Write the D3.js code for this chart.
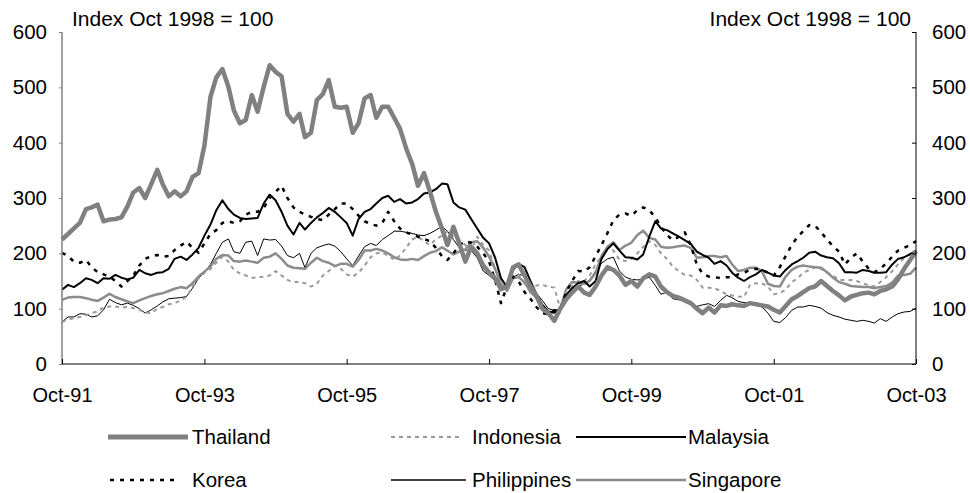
<!DOCTYPE html>
<html>
<head>
<meta charset="utf-8">
<script src="https://cdn.jsdelivr.net/npm/d3@7"></script>
<style>
  html, body { margin: 0; padding: 0; background: #fff; }
  svg { display: block; }
  text { font-family: "Liberation Sans", Arial, sans-serif; fill: #000; }
</style>
</head>
<body>
<svg id="chart" width="970" height="493"></svg>
<script>
// ---- Data (monthly, Oct-91 .. Oct-03; Index Oct 1998 = 100) ----
const startMonth = "1991-10";
const xTickLabels = ["Oct-91", "Oct-93", "Oct-95", "Oct-97", "Oct-99", "Oct-01", "Oct-03"];
const yTicks = [0, 100, 200, 300, 400, 500, 600];
const seriesNames = ["Thailand", "Indonesia", "Malaysia", "Korea", "Philippines", "Singapore"];

const thailand = [225,235,245,255,280,283,288,258,261,262,265,285,310,318,300,325,351,325,303,312,303,312,338,345,395,483,518,533,501,458,435,441,486,456,501,540,528,520,452,438,452,410,418,477,488,513,465,463,465,418,435,480,486,445,465,465,445,425,390,362,322,345,312,275,245,215,248,218,185,212,200,178,165,155,135,140,175,180,160,141,123,100,92,78,100,117,129,140,129,125,140,160,175,170,160,143,150,140,155,162,158,140,130,123,120,115,110,100,92,102,93,106,105,108,106,105,110,108,106,104,98,93,105,117,123,130,137,140,150,141,132,124,115,122,125,128,129,126,132,135,140,153,172,188,204];

const indonesia = [76,80,83,85,88,92,95,102,104,104,102,103,101,98,93,92,100,103,108,110,115,121,140,155,165,172,183,194,185,170,164,160,156,156,158,160,168,160,152,148,148,146,140,145,160,168,178,172,162,158,165,178,193,200,201,196,188,196,210,225,230,222,215,225,232,240,230,224,215,205,230,215,205,172,145,138,158,162,145,138,142,143,140,138,100,120,140,150,150,160,180,195,212,205,188,186,190,200,212,222,215,200,190,176,168,161,160,152,138,138,137,132,126,124,122,121,143,146,146,140,126,128,134,148,155,165,170,175,172,165,160,152,152,152,150,146,142,140,148,157,168,180,192,200,197];

const malaysia = [134,143,139,146,155,152,146,155,154,161,156,153,156,170,164,161,165,166,172,190,194,188,198,210,232,252,278,296,280,270,264,262,263,264,290,306,296,275,250,234,255,243,255,265,273,282,275,265,255,232,262,275,280,290,300,304,293,298,290,292,298,308,310,316,326,325,292,283,279,262,245,228,218,192,155,139,170,181,175,150,126,107,95,93,100,125,137,146,150,140,150,190,208,218,205,193,192,189,198,230,258,245,242,236,230,224,217,203,197,192,181,186,178,165,156,150,157,162,170,165,160,158,170,180,186,192,201,203,196,193,191,182,166,166,165,170,168,165,165,166,180,190,193,198,205];

const korea = [201,195,185,183,188,175,166,162,158,150,140,150,160,178,190,195,197,194,195,206,214,221,210,201,218,235,242,255,258,255,258,270,275,275,282,300,311,322,300,283,275,270,266,262,260,270,280,290,290,280,268,258,253,250,255,275,258,245,238,234,230,226,222,210,195,188,200,215,222,219,212,200,185,152,110,140,158,150,130,118,103,92,90,97,100,130,150,168,167,175,195,215,237,260,270,272,268,278,283,278,265,248,233,224,230,238,215,180,163,158,157,155,157,157,162,165,170,172,170,165,160,175,195,215,230,240,251,250,238,225,213,203,180,192,200,185,172,166,172,182,194,205,210,215,222];

const philippines = [76,85,85,91,90,85,87,98,117,111,107,110,106,100,92,98,105,112,118,119,120,122,137,155,165,180,200,220,226,203,200,220,222,196,226,224,225,213,196,192,200,174,200,210,214,217,213,203,190,178,195,212,218,214,225,232,240,240,238,236,233,232,236,242,249,240,225,210,206,205,192,168,160,150,140,140,157,162,160,140,128,115,100,97,100,120,135,140,145,152,168,182,190,193,168,157,153,152,153,157,142,126,130,118,116,115,111,104,107,109,104,115,124,120,113,111,110,110,103,92,77,75,84,97,103,103,106,104,101,93,88,85,81,79,77,79,77,74,82,77,85,91,94,95,101];

const singapore = [116,120,121,121,119,116,114,120,127,121,117,113,110,115,119,123,126,128,132,136,139,137,146,158,167,176,190,197,196,186,185,187,185,183,192,194,200,190,178,174,173,172,183,192,186,183,177,181,181,176,188,205,205,208,205,200,193,189,188,190,188,195,201,204,211,205,198,203,207,220,222,210,194,172,145,132,155,157,148,130,120,104,94,92,100,135,148,147,145,150,165,195,212,220,206,214,219,233,241,228,225,212,210,211,213,214,210,192,193,195,195,193,195,180,168,170,174,174,168,145,141,140,158,170,176,178,176,175,174,166,156,148,145,141,140,139,139,137,139,141,147,160,161,163,174];

// ---- Setup ----
const svg = d3.select("#chart");
const margin = { left: 62, right: 916, top: 32, bottom: 364 };
const parse = d3.timeParse("%Y-%m");
const t0 = parse(startMonth);
const months = d3.range(thailand.length).map(i => d3.timeMonth.offset(t0, i));

const x = d3.scaleTime().domain([months[0], months[months.length - 1]]).range([margin.left, margin.right]);
const y = d3.scaleLinear().domain([0, 600]).range([margin.bottom, margin.top]);

const styles = {
  Thailand:    { data: thailand,    color: "#808080", width: 4.5, dash: null },
  Indonesia:   { data: indonesia,   color: "#9a9a9a", width: 2,   dash: "4,4" },
  Malaysia:    { data: malaysia,    color: "#000000", width: 2,   dash: null },
  Korea:       { data: korea,       color: "#000000", width: 2.5, dash: "4,6" },
  Philippines: { data: philippines, color: "#000000", width: 1,   dash: null },
  Singapore:   { data: singapore,   color: "#8c8c8c", width: 2.5, dash: null }
};

const line = d3.line().x((d, i) => x(months[i])).y(d => y(d));

const drawOrder = ["Philippines", "Indonesia", "Singapore", "Korea", "Malaysia", "Thailand"];
drawOrder.forEach(name => {
  const s = styles[name];
  svg.append("path")
    .datum(s.data)
    .attr("fill", "none")
    .attr("stroke", s.color)
    .attr("stroke-width", s.width)
    .attr("stroke-dasharray", s.dash)
    .attr("stroke-linejoin", "round")
    .attr("d", line);
});

// ---- Axes ----
const xTickDates = xTickLabels.map((_, k) => d3.timeMonth.offset(t0, k * 24));
const FONT = '"Liberation Sans", Arial, sans-serif';

svg.append("line")
  .attr("x1", margin.left).attr("x2", margin.right)
  .attr("y1", y(0)).attr("y2", y(0))
  .attr("stroke", "#808080").attr("stroke-width", 2);
svg.append("line")
  .attr("x1", margin.left).attr("x2", margin.left)
  .attr("y1", y(0)).attr("y2", y(600))
  .attr("stroke", "#808080").attr("stroke-width", 1.5);
svg.append("line")
  .attr("x1", margin.right).attr("x2", margin.right)
  .attr("y1", y(0)).attr("y2", y(600))
  .attr("stroke", "#000").attr("stroke-width", 1);

const xAxis = d3.axisBottom(x).tickValues(xTickDates)
  .tickFormat((d, i) => xTickLabels[i]).tickSizeInner(-5).tickSizeOuter(0).tickPadding(24);
const gx = svg.append("g").attr("transform", `translate(0,${y(0)})`).call(xAxis);
gx.select(".domain").remove();
gx.selectAll(".tick line").attr("stroke", "#000");
gx.selectAll("text").style("font-size", "20px").style("font-family", FONT);

const yAxisL = d3.axisLeft(y).tickValues(yTicks).tickSizeInner(3).tickSizeOuter(0).tickPadding(12);
const gyl = svg.append("g").attr("transform", `translate(${margin.left},0)`).call(yAxisL);
gyl.select(".domain").remove();
gyl.selectAll(".tick line").attr("stroke", "#808080");
gyl.selectAll("text").style("font-size", "20.5px").style("font-family", FONT);

const yAxisR = d3.axisRight(y).tickValues(yTicks).tickSizeInner(-4).tickSizeOuter(0).tickPadding(16);
const gyr = svg.append("g").attr("transform", `translate(${margin.right},0)`).call(yAxisR);
gyr.select(".domain").remove();
gyr.selectAll(".tick line").attr("stroke", "#000");
gyr.selectAll("text").style("font-size", "20.5px").style("font-family", FONT);

svg.append("text").attr("x", 72).attr("y", 26).style("font-size", "21px").text("Index Oct 1998 = 100");
svg.append("text").attr("x", 911).attr("y", 26).attr("text-anchor", "end").style("font-size", "21px").text("Index Oct 1998 = 100");

// ---- Legend ----
const legendItems = [
  { name: "Thailand",    x1: 108, x2: 188, tx: 192, y: 437 },
  { name: "Indonesia",   x1: 391, x2: 462, tx: 472, y: 437 },
  { name: "Malaysia",    x1: 576, x2: 686, tx: 688, y: 437 },
  { name: "Korea",       x1: 110, x2: 180, tx: 192, y: 480 },
  { name: "Philippines", x1: 391, x2: 466, tx: 472, y: 480 },
  { name: "Singapore",   x1: 576, x2: 686, tx: 688, y: 480 }
];
const lg = svg.append("g");
legendItems.forEach(it => {
  const s = styles[it.name];
  lg.append("line")
    .attr("x1", it.x1).attr("x2", it.x2).attr("y1", it.y).attr("y2", it.y)
    .attr("stroke", s.color)
    .attr("stroke-width", it.name === "Philippines" ? 1.5 : (it.name === "Thailand" ? 5 : s.width))
    .attr("stroke-dasharray", s.dash);
  lg.append("text").attr("x", it.tx).attr("y", it.y).attr("dy", "0.35em")
    .style("font-size", "20.5px").text(it.name);
});
</script>
</body>
</html>
